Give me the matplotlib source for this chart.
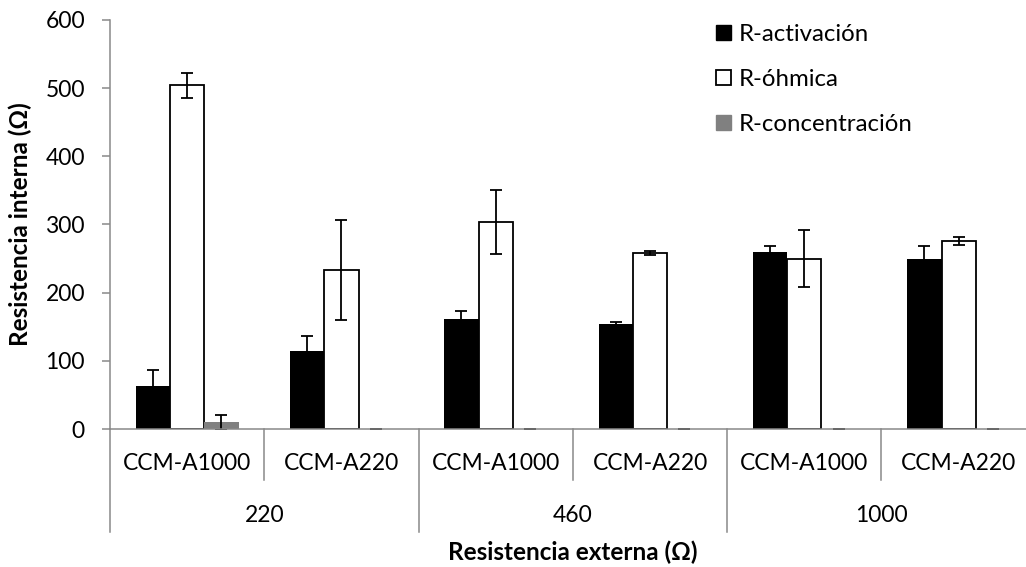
import matplotlib.pyplot as plt
import numpy as np
from matplotlib.patches import Patch

plt.rcParams['font.family'] = ['Lato', 'DejaVu Sans']

# data
groups = ["220", "460", "1000"]
membranes = ["CCM-A1000", "CCM-A220"]
series = ["R-activación", "R-óhmica", "R-concentración"]

r_act = [63, 115, 161, 154, 259, 249]
r_act_err = [24, 22, 12, 3, 10, 20]
r_ohm = [504, 233, 303, 258, 250, 276]
r_ohm_err = [18, 73, 47, 3, 42, 6]
r_conc = [10, 0, 0, 0, 0, 0]
r_conc_err = [11, 0, 0, 0, 0, 0]

axis_grey = "#898989"

fig = plt.figure(figsize=(10.26, 5.67), dpi=100)
# plot area runs a bit past the right edge, like the cropped original
ax = fig.add_axes([110 / 1026, 138 / 567, 925.8 / 1026, 409 / 567])

n = len(r_act)
x = np.arange(n)
w = 1 / 4.5  # three bars + 150% gap

ekw = dict(ecolor="black", elinewidth=1.3, capsize=4.3, capthick=1.3)
ax.bar(x - w, r_act, w, color="black", yerr=r_act_err, error_kw=ekw)
ax.bar(x, r_ohm, w, color="white", edgecolor="black", linewidth=1.3, yerr=r_ohm_err,
       error_kw=ekw)
ax.bar(x + w, r_conc, w, color="#808080", yerr=r_conc_err, error_kw=ekw)

ax.set_xlim(-0.5, n - 0.5)
ax.set_ylim(0, 600)
ax.set_yticks(range(0, 601, 100))
ax.tick_params(axis="y", direction="out", length=6, width=1.1, color=axis_grey,
               labelsize=16.5, pad=12)
ax.set_xticks([])

for s in ["top", "right"]:
    ax.spines[s].set_visible(False)
for s in ["left", "bottom"]:
    ax.spines[s].set_color(axis_grey)
    ax.spines[s].set_linewidth(1.1)

# hierarchical category axis
trans = ax.get_xaxis_transform()
sub_depth = -51 / 409
grp_depth = -103 / 409
for i in range(n + 1):
    xb = i - 0.5
    depth = grp_depth if i % 2 == 0 else sub_depth
    ax.plot([xb, xb], [0, depth], color=axis_grey, lw=1.1, transform=trans, clip_on=False)

for i in range(n):
    ax.text(i, -34 / 409, membranes[i % 2], transform=trans, ha="center", va="center",
            fontsize=16.5)
for g, name in enumerate(groups):
    ax.text(2 * g + 0.5, -86 / 409, name, transform=trans, ha="center", va="center",
            fontsize=16.5)

ax.text(0.5, -123 / 409, "Resistencia externa (Ω)", transform=ax.transAxes,
        ha="center", va="center", fontsize=17.5, fontweight="bold")
fig.text(20 / 1026, 1 - 224.5 / 567, "Resistencia interna (Ω)", rotation=90,
         ha="center", va="center", fontsize=17.5, fontweight="bold")

handles = [Patch(facecolor="black", edgecolor="black"),
           Patch(facecolor="white", edgecolor="black", linewidth=1.3),
           Patch(facecolor="#808080", edgecolor="#808080")]
fig.legend(handles, series, loc="upper left", bbox_to_anchor=(716 / 1026, 1 - 24 / 567),
           frameon=False, fontsize=17.3, handlelength=0.62, handleheight=0.62,
           handletextpad=0.33, labelspacing=1.0, borderpad=0, borderaxespad=0)

fig.savefig("out.png", dpi=100)
